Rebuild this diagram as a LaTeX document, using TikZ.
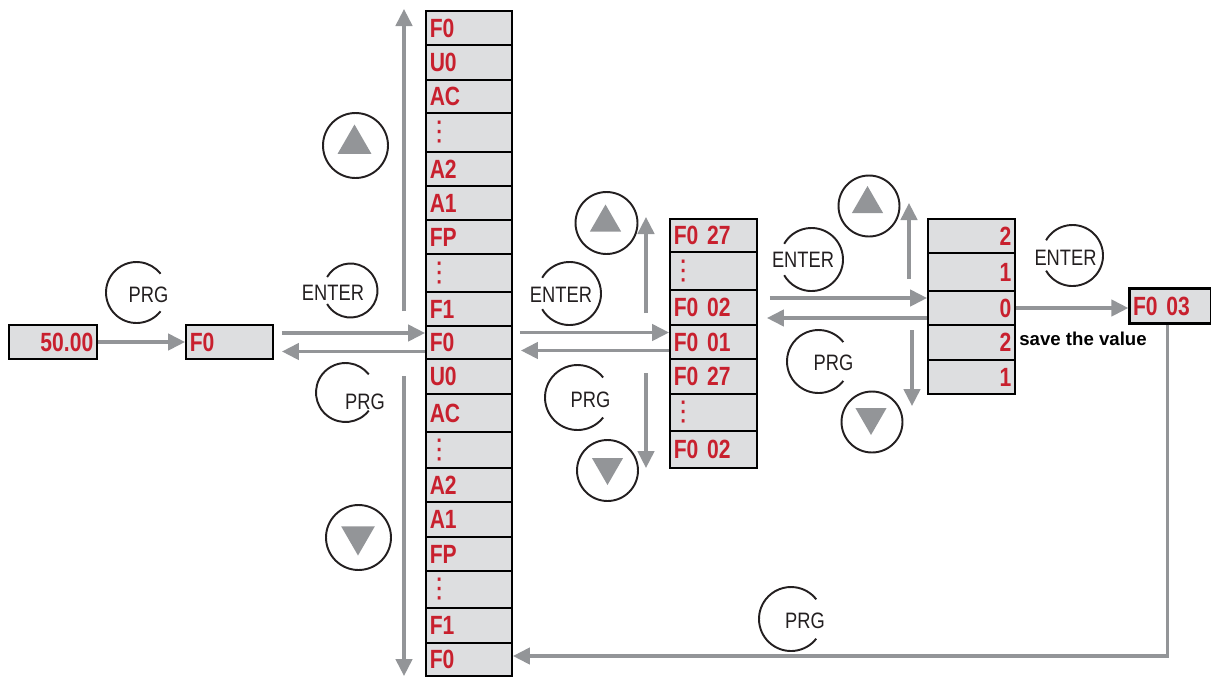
\documentclass[tikz,border=0pt]{standalone}
\usepackage{fontspec}
\usetikzlibrary{arrows.meta,shapes.geometric}
\newfontfamily\lcd[FakeStretch=0.8]{Liberation Sans}
\newfontfamily\keyf[FakeStretch=0.82]{Liberation Sans}
\newfontfamily\plainsans{Liberation Sans}
\newfontfamily\dotsfont{DejaVu Sans}
\definecolor{lcdred}{RGB}{200,32,46}
\definecolor{lcdgray}{RGB}{221,222,224}
\definecolor{arrowgray}{RGB}{147,149,152}
\definecolor{keyblack}{RGB}{35,31,32}
\newcommand\lcddots{\makebox[0.38cm]{\dotsfont\mdseries\fontsize{15.5}{16}\selectfont ⋮}}
\tikzset{
  lcdbox/.style={draw=black, line width=1.4pt, fill=lcdgray, text=lcdred,
    font=\lcd\bfseries\fontsize{15}{18}\selectfont,
    inner xsep=0.07cm, inner ysep=0pt, text width=#1, align=left},
  arr/.style={draw=arrowgray, line width=1.8pt, -{Triangle[length=3.4mm,width=3.3mm]}},
  keyline/.style={draw=keyblack, line width=1.1pt},
  keytext/.style={font=\keyf\fontsize{12.7}{14}\selectfont, text=keyblack, inner sep=0pt},
  keycirc/.style={circle, keyline, inner sep=0pt, minimum size=#1},
  keytri/.style={regular polygon, regular polygon sides=3, fill=arrowgray, inner sep=0pt, minimum size=#1},
}
\begin{document}
\begin{tikzpicture}[x=0.02cm,y=-0.02cm]
\useasboundingbox (0,0) rectangle (1211,677);

\foreach \lab/\ya/\yb [count=\i] in {F0/11/45,U0/45/80,AC/80/113,\lcddots/113/152,A2/152/186,A1/186/220,FP/220/254,\lcddots/254/292,F1/292/326,F0/326/359,U0/359/394,AC/394/432,\lcddots/432/468,A2/468/502,A1/502/537,FP/537/571,\lcddots/571/608,F1/608/643,F0/643/676}
  \node[lcdbox=1.57cm, minimum height={(\yb-\ya)*0.02cm}] (m\i) at (469,{(\ya+\yb)/2}) {\lab};

\foreach \lab/\ya/\yb [count=\i] in {F0 27/219/252,\lcddots/252/290,F0 02/290/325,F0 01/325/359,F0 27/359/394,\lcddots/394/431,F0 02/431/468}
  \node[lcdbox=1.59cm, minimum height={(\yb-\ya)*0.02cm}] (s\i) at (713.5,{(\ya+\yb)/2}) {\lab};

\foreach \lab/\ya/\yb [count=\i] in {2/219/253,1/253/291,0/291/325,2/325/360,1/360/394}
  \node[lcdbox=1.59cm, align=right, minimum height={(\yb-\ya)*0.02cm}] (v\i) at (971.5,{(\ya+\yb)/2}) {\lab};

\node[lcdbox=1.61cm, align=right, minimum height=0.68cm] (disp) at (53,342) {50.00};
\node[lcdbox=1.59cm, minimum height=0.68cm] (f0) at (229.5,342) {F0};
\node[lcdbox=1.5cm, minimum height=0.7cm] (res) at (1170.5,306) {F0 03};
\node[anchor=west, inner sep=0pt, font=\plainsans\bfseries\fontsize{10.6}{12}\selectfont] (save) at (1019,339) {save the value};

\draw[arr] (disp) -- (f0);
\draw[arr, shorten <=0.16cm] ([yshift=0.18cm]f0.east) -- ([yshift=0.18cm]f0.east -| m10.west);
\draw[arr, shorten >=0.16cm] ([yshift=-0.18cm]m10.west) -- ([yshift=-0.18cm]m10.west -| f0.east);
\draw[arr, shorten <=0.14cm] ([yshift=0.2cm]m10.east) -- ([yshift=0.2cm]m10.east -| s4.west);
\draw[arr, shorten >=0.16cm] ([yshift=-0.17cm]s4.west) -- ([yshift=-0.17cm]s4.west -| m10.east);
\draw[arr, shorten <=0.24cm] ([yshift=0.2cm]v3.west -| s3.east) -- ([yshift=0.2cm]v3.west);
\draw[arr, shorten >=0.18cm] ([yshift=-0.2cm]v3.west) -- ([yshift=-0.2cm]v3.west -| s3.east);
\draw[arr] (v3.east) -- (v3.east -| res.west);
\draw[arr] ([xshift=-0.06cm]res.south) |- ([yshift=0.07cm]m19.east);

\coordinate (mupa) at (404,311);
\coordinate (mupb) at (404,9);
\coordinate (mdna) at (404,376);
\coordinate (mdnb) at (404,676);
\coordinate (supa) at (646,313);
\coordinate (supb) at (646,217);
\coordinate (sdna) at (646,373);
\coordinate (sdnb) at (646,468);
\coordinate (vupa) at (909,279);
\coordinate (vupb) at (909,203);
\coordinate (vdna) at (912,330);
\coordinate (vdnb) at (912,406);
\draw[arr] (mupa) -- (mupb);
\draw[arr] (mdna) -- (mdnb);
\draw[arr] (supa) -- (supb);
\draw[arr] (sdna) -- (sdnb);
\draw[arr] (vupa) -- (vupb);
\draw[arr] (vdna) -- (vdnb);

\node[keycirc=1.3cm] (kup1) at (355.5,145.5) {};
\node[keytri=0.78cm] (kup1t) at (354.5,144) {};
\node[keycirc=1.3cm] (kdn1) at (358.5,537.5) {};
\node[keytri=0.78cm, shape border rotate=180] (kdn1t) at (358,536) {};
\node[keycirc=1.24cm] (kup2) at (606.5,223) {};
\node[keytri=0.72cm] (kup2t) at (605.5,222.5) {};
\node[keycirc=1.22cm] (kdn2) at (607.5,470.5) {};
\node[keytri=0.72cm, shape border rotate=180] (kdn2t) at (607.5,467) {};
\node[keycirc=1.22cm] (kup3) at (869,206) {};
\node[keytri=0.72cm] (kup3t) at (867.5,204) {};
\node[keycirc=1.22cm] (kdn3) at (872,422) {};
\node[keytri=0.72cm, shape border rotate=180] (kdn3t) at (871,417) {};

\node[keytext] (prg1) at (148.5,295) {PRG};
\node[keytext] (ent1) at (333,293) {ENTER};
\node[keytext] (prg2) at (365,402) {PRG};
\node[keytext] (ent2) at (561,295) {ENTER};
\node[keytext] (prg3) at (590.5,400) {PRG};
\node[keytext] (ent3) at (803,260) {ENTER};
\node[keytext] (prg4) at (833.5,363) {PRG};
\node[keytext] (ent4) at (1065.5,258) {ENTER};
\node[keytext] (prg5) at (805,621) {PRG};
\draw[keyline] (136.5,292.5) ++(38:30.5) arc[start angle=38, end angle=322, radius=30.5];
\draw[keyline] (350.5,290.5) ++(-150:27) arc[start angle=-150, end angle=150, radius=27];
\draw[keyline] (345.5,392.5) ++(38:29.5) arc[start angle=38, end angle=322, radius=29.5];
\draw[keyline] (569.5,293.5) ++(-150:31.5) arc[start angle=-150, end angle=150, radius=31.5];
\draw[keyline] (577.5,397.5) ++(38:32.5) arc[start angle=38, end angle=322, radius=32.5];
\draw[keyline] (811.5,259.5) ++(-150:31.5) arc[start angle=-150, end angle=150, radius=31.5];
\draw[keyline] (818.5,361.5) ++(38:31.5) arc[start angle=38, end angle=322, radius=31.5];
\draw[keyline] (1072.5,255.5) ++(-150:30.5) arc[start angle=-150, end angle=150, radius=30.5];
\draw[keyline] (791,619) ++(38:32) arc[start angle=38, end angle=322, radius=32];
\end{tikzpicture}
\end{document}
